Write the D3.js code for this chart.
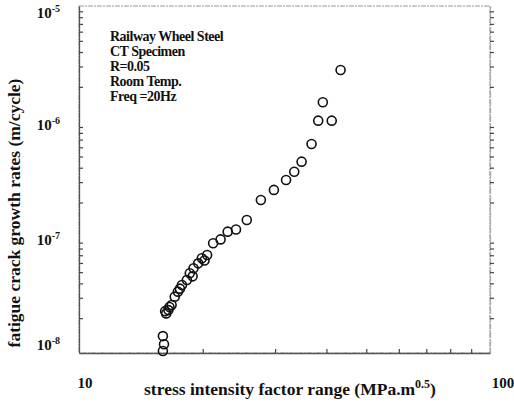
<!DOCTYPE html>
<html>
<head>
<meta charset="utf-8">
<script src="https://cdn.jsdelivr.net/npm/d3@7"></script>
<style>
  body { margin: 0; background: #fff; }
  svg { display: block; }
  text { font-family: "Liberation Serif", "DejaVu Serif", serif; fill: #111; }
</style>
</head>
<body>
<script>
// stress intensity factor range, MPa.m^0.5
const deltaK = [43.3, 39.2, 38.2, 41.2, 36.8, 34.8, 33.4, 31.9, 29.8, 27.7,
                25.6, 24.1, 23.0, 22.1, 21.2, 20.5, 20.2, 19.9, 19.5, 19.0,
                18.9, 18.6, 18.3, 17.8, 17.6, 17.4, 17.1, 16.8, 16.6, 16.5,
                16.3, 16.2, 16.0, 16.1, 16.0];
// crack growth rate, m/cycle
const growthRate = [2.80e-6, 1.47e-6, 1.02e-6, 1.02e-6, 6.41e-7, 4.51e-7, 3.69e-7, 3.13e-7, 2.57e-7, 2.10e-7,
                    1.41e-7, 1.17e-7, 1.12e-7, 9.6e-8, 8.9e-8, 7.03e-8, 6.3e-8, 6.59e-8, 5.96e-8, 5.4e-8,
                    4.6e-8, 4.89e-8, 4.28e-8, 3.87e-8, 3.6e-8, 3.39e-8, 3.07e-8, 2.60e-8, 2.5e-8, 2.35e-8,
                    2.20e-8, 2.3e-8, 1.40e-8, 1.19e-8, 1.04e-8];

const xMajor = [10, 100];
const yMajor = [-8, -7, -6, -5];
const legendLines = ["Railway Wheel Steel", "CT Specimen", "R=0.05", "Room Temp.", "Freq =20Hz"];

const width = 514, height = 408;
const m = {left: 79, right: 490, top: 6, bottom: 353};

const svg = d3.select("body").append("svg")
  .attr("width", width)
  .attr("height", height);

const x = d3.scaleLog().domain([10, 100]).range([m.left, m.right]);
const y = d3.scaleLog().domain([1e-8, 1e-5]).range([m.bottom, m.top]);

// minor tick positions
const xMinor = d3.range(20, 100, 10);
const yMinor = [];
yMajor.slice(0, 3).forEach(e => {
  for (let k = 2; k <= 9; k++) yMinor.push(k * Math.pow(10, e));
});

// frame
svg.append("rect")
  .attr("x", m.left).attr("y", m.top)
  .attr("width", m.right - m.left).attr("height", m.bottom - m.top)
  .attr("fill", "none")
  .attr("stroke", "#9a9a9a")
  .attr("stroke-width", 1.2)
  .attr("stroke-dasharray", "5,1,2,1");

const tickStyle = g => {
  g.select(".domain").attr("stroke", "#555").attr("stroke-width", 1.3);
  g.selectAll(".tick line").attr("stroke", "#444").attr("stroke-width", 1.2);
  g.selectAll(".tick text").remove();
};

svg.append("g")
  .attr("transform", `translate(0,${m.bottom})`)
  .call(d3.axisBottom(x).tickValues(xMinor).tickSize(-4).tickSizeOuter(0))
  .call(tickStyle);

svg.append("g")
  .attr("transform", `translate(${m.right},0)`)
  .call(d3.axisLeft(y).tickValues(yMinor).tickSize(-4).tickSizeOuter(0))
  .call(tickStyle)
  .call(g => g.select(".domain").attr("stroke", "#aaa").attr("stroke-dasharray", "6,2"));

svg.append("g")
  .attr("transform", `translate(${m.left},0)`)
  .call(d3.axisLeft(y).tickValues(yMinor).tickSize(-4).tickSizeOuter(0))
  .call(tickStyle);

// tick labels
svg.append("g").selectAll("text")
  .data(xMajor)
  .join("text")
  .attr("x", d => x(d) + (d === 10 ? 6 : 13))
  .attr("y", 388)
  .attr("text-anchor", "middle")
  .attr("font-size", 15)
  .attr("font-weight", "bold")
  .attr("fill", "#333")
  .text(d => d);

const yl = svg.append("g").selectAll("text")
  .data(yMajor)
  .join("text")
  .attr("x", 60)
  .attr("y", d => y(Math.pow(10, d)) + (d === -5 ? 12 : d === -8 ? -3 : 8))
  .attr("text-anchor", "end")
  .attr("font-size", 15)
  .attr("font-weight", "bold")
  .attr("fill", "#333");
yl.append("tspan").text("10");
yl.append("tspan").attr("dy", -6).attr("font-size", 10).text(d => d);

// axis titles
svg.append("text")
  .attr("x", 290).attr("y", 395)
  .attr("text-anchor", "middle")
  .attr("font-size", 17.5)
  .attr("font-weight", "bold")
  .call(t => {
    t.append("tspan").text("stress intensity factor range (MPa.m");
    t.append("tspan").attr("dy", -7).attr("font-size", 12).text("0.5");
    t.append("tspan").attr("dy", 7).text(")");
  });

svg.append("text")
  .attr("transform", "translate(20,213) rotate(-90)")
  .attr("text-anchor", "middle")
  .attr("font-size", 17.5)
  .attr("font-weight", "bold")
  .text("fatigue crack growth rates (m/cycle)");

// legend text
svg.append("g").selectAll("text")
  .data(legendLines)
  .join("text")
  .attr("x", 110)
  .attr("y", (d, i) => 41 + i * 15)
  .attr("font-size", 14)
  .attr("font-weight", "bold")
  .attr("letter-spacing", -0.5)
  .text(d => d);

// data points
svg.append("g").selectAll("circle")
  .data(deltaK.map((k, i) => [k, growthRate[i]]))
  .join("circle")
  .attr("cx", d => x(d[0]))
  .attr("cy", d => y(d[1]))
  .attr("r", 4.5)
  .attr("fill", "none")
  .attr("stroke", "#111")
  .attr("stroke-width", 1.6);
</script>
</body>
</html>
